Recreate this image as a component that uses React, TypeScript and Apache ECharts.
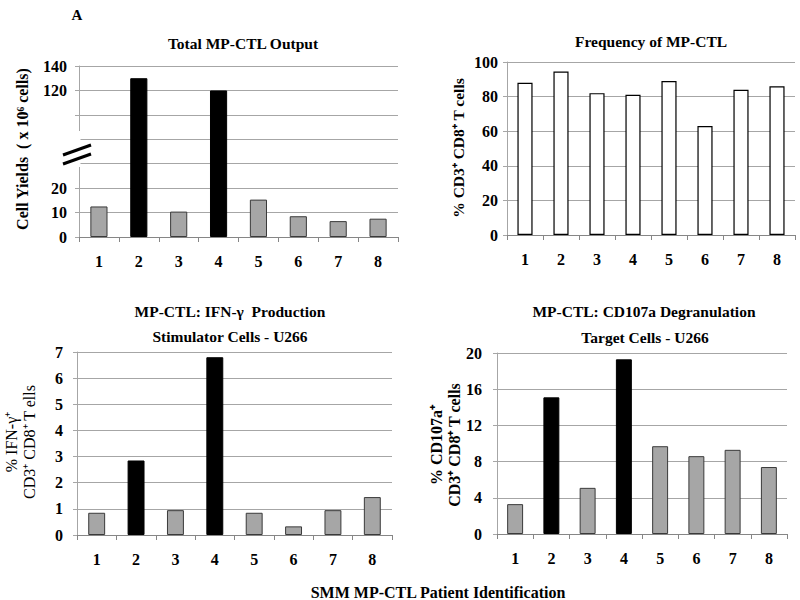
import React, { useEffect, useRef } from "react";
import * as echarts from "echarts";

const categories = ["1", "2", "3", "4", "5", "6", "7", "8"];
const totalOutput = [12.5, 130, 10.4, 120, 15.3, 8.5, 6.5, 7.5];
const frequency = [88, 94.5, 82, 81, 89, 63, 84, 86];
const ifnGamma = [0.85, 2.85, 0.95, 6.8, 0.85, 0.33, 0.95, 1.45];
const cd107a = [3.3, 15.1, 5.1, 19.3, 9.7, 8.6, 9.3, 7.4];
const highlighted = [false, true, false, true, false, false, false, false];
// broken axis: 0..20 in steps of 10 below the break, 100..140 in steps of 20 above
const outputTickLabels = ["0", "10", "20", "", "", "", "120", "140"];

const brokenScale = (v: number) => (v <= 20 ? v / 10 : 5 + (v - 100) / 20);

const FONT = "'Liberation Serif', 'Times New Roman', serif";
const GRID_COLOR = "#a6a6a6";
const AXIS_COLOR = "#868686";
const GRAY = "#a6a6a6";

export default function App() {
  const ref = useRef<HTMLDivElement>(null);
  useEffect(() => {
    if (!ref.current) return;
    const chart = echarts.init(ref.current, null, { renderer: "svg" });

    const grids = [
      { left: 79, right: 402, top: 66, bottom: 363 },
      { left: 507, right: 5, top: 62, bottom: 365 },
      { left: 77, right: 408, top: 352, bottom: 65 },
      { left: 497, right: 13, top: 353, bottom: 66 },
    ];

    const xAxes = grids.map((_, i) => ({
      type: "category",
      gridIndex: i,
      data: categories,
      axisLine: { show: true, lineStyle: { color: AXIS_COLOR, width: 1 } },
      axisTick: { show: true, alignWithLabel: false, length: 5, lineStyle: { color: AXIS_COLOR } },
      axisLabel: { fontFamily: FONT, fontWeight: "bold", fontSize: 16, color: "#000", margin: 16 },
    }));

    const yBase = {
      type: "value",
      axisLine: { show: true, lineStyle: { color: GRID_COLOR, width: 1 } },
      axisTick: { show: true, length: 4, lineStyle: { color: GRID_COLOR } },
      splitLine: { show: true, lineStyle: { color: GRID_COLOR, width: 1 } },
    };
    const labelStyle = { fontFamily: FONT, fontWeight: "bold", fontSize: 16, color: "#000" };

    const yAxes = [
      {
        ...yBase,
        gridIndex: 0,
        min: 0,
        max: 7,
        interval: 1,
        axisLabel: { ...labelStyle, margin: 12, formatter: (v: number) => outputTickLabels[Math.round(v)] ?? "" },
      },
      { ...yBase, gridIndex: 1, min: 0, max: 100, interval: 20, axisLabel: { ...labelStyle, margin: 9 } },
      { ...yBase, gridIndex: 2, min: 0, max: 7, interval: 1, axisLabel: { ...labelStyle, margin: 14 } },
      { ...yBase, gridIndex: 3, min: 0, max: 20, interval: 4, axisLabel: { ...labelStyle, margin: 15 } },
    ];

    const item = (v: number, i: number) => ({
      value: v,
      itemStyle: highlighted[i]
        ? { color: "#000", borderColor: "#000", borderWidth: 1 }
        : { color: GRAY, borderColor: "#3a3a3a", borderWidth: 1 },
    });

    const series = [
      {
        type: "bar",
        xAxisIndex: 0,
        yAxisIndex: 0,
        barWidth: "43%",
        data: totalOutput.map((v, i) => item(brokenScale(v), i)),
      },
      {
        type: "bar",
        xAxisIndex: 1,
        yAxisIndex: 1,
        barWidth: "42%",
        data: frequency.map((v) => ({
          value: v,
          itemStyle: { color: "#fff", borderColor: "#000", borderWidth: 1.2 },
        })),
      },
      {
        type: "bar",
        xAxisIndex: 2,
        yAxisIndex: 2,
        barWidth: "43%",
        data: ifnGamma.map((v, i) => item(v, i)),
      },
      {
        type: "bar",
        xAxisIndex: 3,
        yAxisIndex: 3,
        barWidth: "44%",
        data: cd107a.map((v, i) => item(v, i)),
      },
    ];

    const txt = (
      text: string,
      x: number,
      y: number,
      opts: { size?: number; weight?: string; rotate?: boolean; align?: string; lineHeight?: number } = {}
    ) => ({
      type: "text",
      x,
      y,
      rotation: opts.rotate ? Math.PI / 2 : 0,
      z: 50,
      style: {
        text,
        fontFamily: FONT,
        fontSize: opts.size ?? 15.5,
        fontWeight: opts.weight ?? "bold",
        fill: "#000",
        align: opts.align ?? "center",
        verticalAlign: "middle",
        lineHeight: opts.lineHeight ?? 18,
      },
    });

    const graphic = [
      txt("A", 77, 15, { size: 15 }),
      txt("Total MP-CTL Output", 243, 43),
      txt("Frequency of MP-CTL", 651, 41),
      txt("MP-CTL: IFN-\u03b3  Production", 230, 311),
      txt("Stimulator Cells - U266", 230, 336),
      txt("MP-CTL: CD107a Degranulation", 644, 311),
      txt("Target Cells - U266", 645, 337),
      txt("Cell Yields  ( x 10\u2076 cells)", 22, 149, { rotate: true, size: 16 }),
      txt("% CD3\u207a CD8\u207a T cells", 458, 148, { rotate: true, size: 15.5 }),
      txt("% IFN-\u03b3\u207a\nCD3\u207a CD8\u207a T ells", 20, 442, {
        rotate: true,
        size: 16,
        weight: "normal",
        lineHeight: 18,
      }),
      txt("% CD107a\u207a\nCD3\u207a CD8\u207a T cells", 445, 445, { rotate: true, size: 16, lineHeight: 18 }),
      txt("SMM MP-CTL Patient Identification", 438, 592, { size: 16 }),
      // axis break
      { type: "rect", z: 40, shape: { x: 70, y: 131, width: 10.5, height: 36 }, style: { fill: "#fff" } },
      {
        type: "line",
        z: 45,
        shape: { x1: 63, y1: 155, x2: 91, y2: 145 },
        style: { stroke: "#000", lineWidth: 3 },
      },
      {
        type: "line",
        z: 45,
        shape: { x1: 63, y1: 164, x2: 91, y2: 154 },
        style: { stroke: "#000", lineWidth: 3 },
      },
    ];

    chart.setOption({
      animation: false,
      backgroundColor: "#fff",
      grid: grids,
      xAxis: xAxes,
      yAxis: yAxes,
      series,
      graphic,
    } as any);

    return () => chart.dispose();
  }, []);

  return (
    <div
      ref={ref}
      style={{ position: "fixed", left: 0, top: 0, width: 800, height: 600, background: "#fff" }}
    />
  );
}
